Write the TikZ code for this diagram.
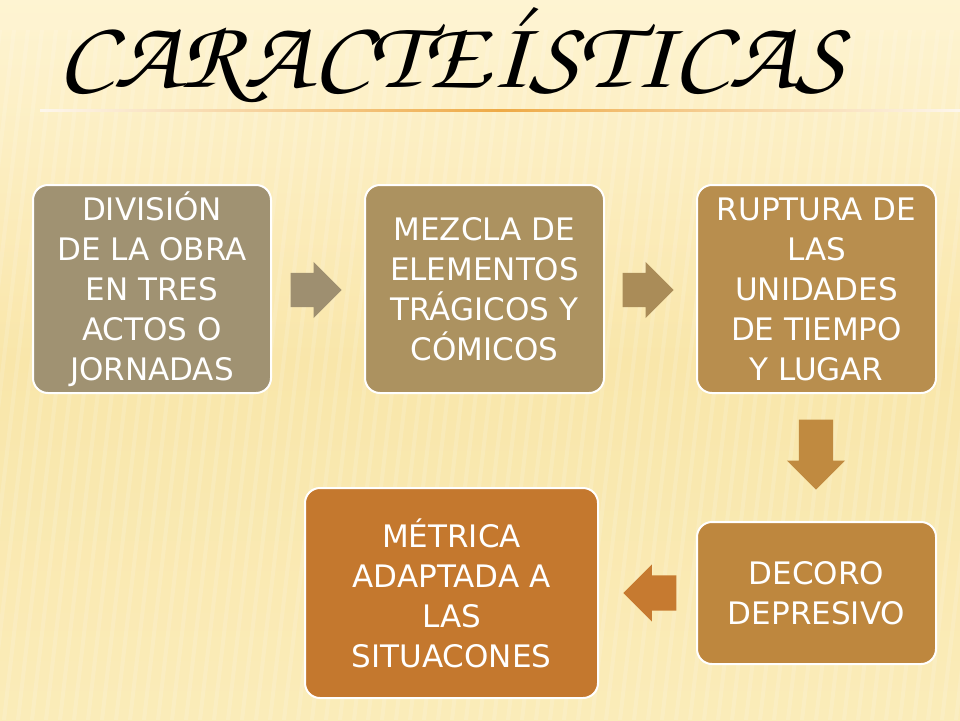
\documentclass[tikz,border=0pt]{standalone}
\usepackage[T1]{fontenc}
\usepackage{fontspec}
\setmainfont{DejaVu Sans}
\usepackage{tikz}
\usetikzlibrary{shapes.arrows, calc, positioning}
\definecolor{bgtop}{RGB}{254, 244, 210}
\definecolor{bgmid}{RGB}{249, 230, 170}
\definecolor{bgbot}{RGB}{250, 236, 185}
\definecolor{rulecol}{RGB}{238, 170, 70}
\definecolor{boxA}{RGB}{160, 146, 114}
\definecolor{boxB}{RGB}{172, 146, 96}
\definecolor{boxC}{RGB}{184, 142, 78}
\definecolor{boxD}{RGB}{190, 135, 62}
\definecolor{boxE}{RGB}{196, 120, 46}
\definecolor{arrA}{RGB}{158, 143, 112}
\definecolor{arrB}{RGB}{170, 140, 88}
\definecolor{arrC}{RGB}{192, 138, 64}
\definecolor{arrD}{RGB}{198, 122, 48}
\tikzset{
	topic/.style={draw=white, line width=2pt, rounded corners=15pt, text=white,
		align=center, inner sep=0pt, font=\fontsize{31}{40}\selectfont},
	blockarrow/.style={single arrow, minimum height=51pt, text height=0pt, text depth=0pt,
		inner xsep=0pt, inner ysep=17pt, single arrow head extend=11pt, draw=none, anchor=tip}
}
\begin{document}
\begin{tikzpicture}[x=1pt, y=-1pt]
			% Background
			\shade[top color=bgtop, bottom color=bgbot, middle color=bgmid] (0,0) rectangle (960,720);
			\useasboundingbox (0,0) rectangle (960,720);
			\fill[bgtop, opacity=0.8] (0,0) rectangle (960,30);
			\foreach \i in {0,14,...,1040}
			{
				\draw[white, opacity=0.14, line width=4pt] (\i,30) -- ++ (-80,690);
			}
			
			% Title
			\node (title) at (451,55) {\resizebox{787pt}{82pt}{\fontencoding{T1}\fontfamily{pzc}\fontseries{mb}\fontshape{it}\selectfont CARACTE\'ISTICAS}};
			\shade[left color=rulecol!10, right color=rulecol!10, middle color=rulecol] (40,109) rectangle (960,111);
			
			% Boxes
			\node[topic, fill=boxA, minimum width=238pt, minimum height=208pt] (div) at (152,289)
				{DIVISIÓN\\DE LA OBRA\\EN TRES\\ACTOS O\\JORNADAS};
			\node[topic, fill=boxB, minimum width=239pt, minimum height=208pt] (mez) at (484.5,289)
				{MEZCLA DE\\ELEMENTOS\\TRÁGICOS Y\\CÓMICOS};
			\node[topic, fill=boxC, minimum width=239pt, minimum height=208pt] (rup) at (816.5,289)
				{RUPTURA DE\\LAS\\UNIDADES\\DE TIEMPO\\Y LUGAR};
			\node[topic, fill=boxD, minimum width=239pt, minimum height=142pt] (dec) at (816.5,593)
				{DECORO\\DEPRESIVO};
			\node[topic, fill=boxE, minimum width=293pt, minimum height=210pt] (met) at (451.5,593)
				{MÉTRICA\\ADAPTADA A\\LAS\\SITUACONES};
			
			% Arrows
			\node[blockarrow, fill=arrA] (a1) at (342,290) {};
			\node[blockarrow, fill=arrB] (a2) at (674,290) {};
			\node[blockarrow, fill=arrC, rotate=270, minimum height=70pt, single arrow head extend=12pt] (a3) at (816,490) {};
			\node[blockarrow, fill=arrD, rotate=180, minimum height=53pt, inner ysep=17.5pt] (a4) at (623,593) {};
			
		\end{tikzpicture}
\end{document}
